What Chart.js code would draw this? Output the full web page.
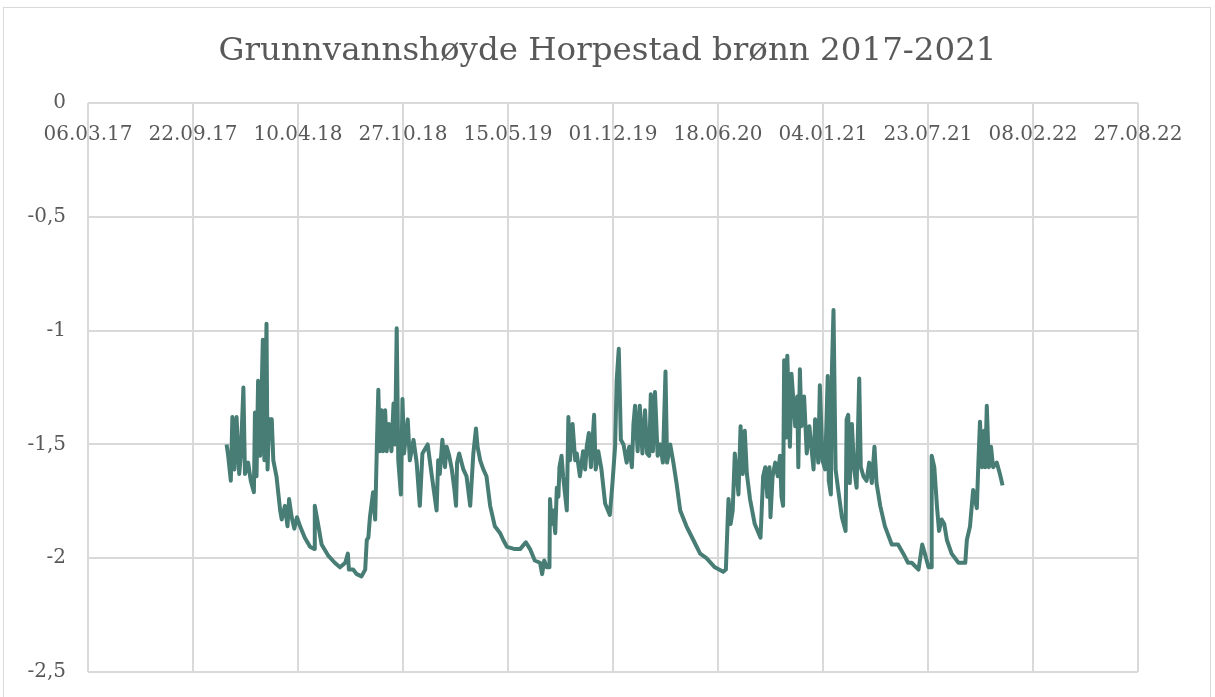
<!DOCTYPE html>
<html>
<head>
<meta charset="utf-8">
<script src="https://cdn.jsdelivr.net/npm/chart.js@4/dist/chart.umd.min.js"></script>
<style>
  html, body { margin: 0; padding: 0; background: #fff; }
  #wrap { position: relative; width: 1215px; height: 697px; overflow: hidden; }
  #frame { position: absolute; left: 3px; top: 7px; width: 1206px; height: 700px; border: 1px solid #d9d9d9; pointer-events: none; }
</style>
</head>
<body>
<div id="wrap">
  <canvas id="chart" width="1215" height="697"></canvas>
  <div id="frame"></div>
</div>
<script>
// groundwater level (m) — x is days after 06.03.17
const startDate = Date.UTC(2017, 2, 6);
const days = [
  264, 267, 272, 275, 279, 283, 288, 291, 296, 299, 305, 310, 316, 318, 321, 324, 328, 333, 336, 340,
  342, 345, 350, 353, 359, 366, 369, 375, 380, 383, 388, 393, 398, 404, 413, 423, 431, 432, 439, 445,
  458, 470, 480, 490, 495, 497, 505, 512, 521, 528, 531, 534, 537, 543, 547, 550, 553, 556, 559, 562,
  566, 569, 573, 578, 582, 585, 588, 591, 596, 599, 602, 609, 613, 620, 626, 632, 637, 647, 655, 664,
  667, 670, 675, 680, 683, 688, 693, 698, 701, 703, 707, 715, 721, 728, 734, 739, 742, 747, 753, 759,
  766, 775, 785, 791, 798, 813, 823, 834, 842, 851, 861, 865, 869, 874, 879, 880, 883, 886, 890, 893,
  896, 898, 902, 905, 912, 915, 918, 923, 928, 931, 937, 943, 947, 950, 954, 958, 964, 967, 972, 978,
  985, 994, 999, 1004, 1007, 1011, 1015, 1020, 1026, 1031, 1036, 1039, 1042, 1047, 1051, 1056, 1061, 1065, 1069, 1072,
  1076, 1080, 1085, 1090, 1095, 1100, 1103, 1109, 1115, 1121, 1128, 1140, 1153, 1166, 1178, 1194, 1210, 1215, 1218, 1220,
  1224, 1228, 1232, 1236, 1239, 1243, 1247, 1251, 1255, 1261, 1270, 1281, 1286, 1290, 1294, 1298, 1300, 1304, 1309, 1314,
  1318, 1321, 1324, 1326, 1330, 1332, 1337, 1340, 1347, 1351, 1353, 1356, 1359, 1364, 1369, 1374, 1382, 1385, 1391, 1394,
  1399, 1404, 1409, 1411, 1415, 1417, 1420, 1424, 1429, 1436, 1443, 1445, 1448, 1451, 1455, 1459, 1464, 1469, 1472, 1477,
  1483, 1488, 1493, 1498, 1502, 1509, 1518, 1531, 1543, 1553, 1562, 1569, 1582, 1589, 1594, 1601, 1606, 1607, 1612, 1617,
  1621, 1626, 1631, 1636, 1645, 1658, 1671, 1674, 1680, 1686, 1693, 1696, 1699, 1703, 1707, 1709, 1712, 1716, 1720, 1724,
  1731, 1737, 1742
];
const levels = [
  -1.50, -1.55, -1.66, -1.38, -1.61, -1.38, -1.63, -1.55, -1.25, -1.63, -1.58, -1.66, -1.71, -1.36, -1.64, -1.22, -1.55, -1.04, -1.57, -0.97,
  -1.61, -1.39, -1.39, -1.57, -1.64, -1.79, -1.83, -1.77, -1.86, -1.74, -1.82, -1.87, -1.82, -1.86, -1.91, -1.95, -1.96, -1.77, -1.86, -1.94,
  -1.99, -2.02, -2.04, -2.02, -1.98, -2.05, -2.05, -2.07, -2.08, -2.05, -1.92, -1.91, -1.82, -1.71, -1.83, -1.53, -1.26, -1.53, -1.35, -1.53,
  -1.35, -1.53, -1.41, -1.53, -1.32, -1.50, -0.99, -1.57, -1.72, -1.30, -1.54, -1.39, -1.57, -1.48, -1.58, -1.77, -1.54, -1.50, -1.64, -1.79,
  -1.57, -1.63, -1.48, -1.60, -1.51, -1.55, -1.61, -1.70, -1.77, -1.58, -1.54, -1.61, -1.64, -1.77, -1.54, -1.43, -1.51, -1.57, -1.61, -1.64,
  -1.77, -1.86, -1.89, -1.92, -1.95, -1.96, -1.96, -1.93, -1.96, -2.01, -2.02, -2.07, -2.01, -2.04, -2.04, -1.74, -1.85, -1.79, -1.89, -1.69,
  -1.73, -1.60, -1.55, -1.64, -1.79, -1.38, -1.57, -1.41, -1.57, -1.54, -1.64, -1.53, -1.61, -1.51, -1.45, -1.60, -1.37, -1.61, -1.53, -1.61,
  -1.76, -1.81, -1.67, -1.51, -1.22, -1.08, -1.48, -1.50, -1.58, -1.51, -1.60, -1.41, -1.33, -1.53, -1.33, -1.54, -1.35, -1.54, -1.55, -1.28,
  -1.53, -1.27, -1.55, -1.50, -1.58, -1.18, -1.58, -1.50, -1.58, -1.67, -1.79, -1.86, -1.92, -1.98, -2.00, -2.04, -2.06, -2.05, -1.86, -1.74,
  -1.85, -1.79, -1.54, -1.64, -1.72, -1.42, -1.63, -1.44, -1.63, -1.74, -1.85, -1.91, -1.64, -1.60, -1.73, -1.60, -1.82, -1.64, -1.58, -1.64,
  -1.55, -1.73, -1.77, -1.13, -1.47, -1.11, -1.51, -1.19, -1.42, -1.29, -1.60, -1.17, -1.42, -1.29, -1.54, -1.42, -1.61, -1.39, -1.58, -1.24,
  -1.57, -1.61, -1.20, -1.66, -1.72, -1.17, -0.91, -1.61, -1.70, -1.82, -1.88, -1.39, -1.37, -1.67, -1.41, -1.60, -1.69, -1.21, -1.60, -1.64,
  -1.66, -1.58, -1.67, -1.51, -1.67, -1.77, -1.86, -1.94, -1.94, -1.98, -2.02, -2.02, -2.05, -1.94, -1.98, -2.04, -2.04, -1.55, -1.60, -1.77,
  -1.88, -1.83, -1.85, -1.92, -1.98, -2.02, -2.02, -1.92, -1.86, -1.70, -1.78, -1.58, -1.40, -1.60, -1.44, -1.60, -1.33, -1.60, -1.51, -1.60,
  -1.58, -1.63, -1.68
];
const yTicks = [0, -0.5, -1, -1.5, -2, -2.5];
const xTickStep = 200;
const xMax = 2000;

const textColor = '#595959';
const gridColor = '#d9d9d9';
const fontFamily = '"DejaVu Serif", Georgia, serif';

function fmtDate(dayNum) {
  const d = new Date(startDate + dayNum * 86400000);
  const dd = String(d.getUTCDate()).padStart(2, '0');
  const mm = String(d.getUTCMonth() + 1).padStart(2, '0');
  const yy = String(d.getUTCFullYear()).slice(2);
  return dd + '.' + mm + '.' + yy;
}

const points = days.map((d, i) => ({ x: d, y: levels[i] }));

const ctx = document.getElementById('chart').getContext('2d');
new Chart(ctx, {
  type: 'line',
  data: {
    datasets: [
      {
        label: 'Grunnvannshøyde',
        data: points,
        borderColor: '#477d74',
        borderWidth: 4,
        pointRadius: 0,
        tension: 0,
        fill: false,
        borderJoinStyle: 'round',
      },
    ],
  },
  options: {
    responsive: false,
    animation: false,
    layout: {
      padding: { left: 0, right: 0, top: 0, bottom: 25 },
    },
    plugins: {
      legend: { display: false },
      tooltip: { enabled: false },
      title: {
        display: true,
        text: 'Grunnvannshøyde Horpestad brønn 2017-2021',
        color: textColor,
        font: { family: fontFamily, size: 32.5, weight: 'normal' },
        padding: { top: 32, bottom: 32 },
      },
    },
    scales: {
      x: {
        type: 'linear',
        position: { y: 0 },
        min: 0,
        max: xMax,
        afterBuildTicks: (scale) => {
          const t = [];
          for (let v = 0; v <= xMax; v += xTickStep) t.push({ value: v });
          scale.ticks = t;
        },
        ticks: {
          color: textColor,
          font: { family: fontFamily, size: 20 },
          padding: 20,
          maxRotation: 0,
          autoSkip: false,
          callback: (value) => fmtDate(value),
        },
        grid: { color: gridColor, lineWidth: 2, drawTicks: false },
        border: { display: false },
      },
      y: {
        min: -2.5,
        max: 0,
        afterBuildTicks: (scale) => {
          scale.ticks = yTicks.map((v) => ({ value: v }));
        },
        afterFit: (scale) => {
          scale.width = 88;
          // label padding shouldn't push the plot area up from the bottom
          scale.paddingTop = 0;
          scale.paddingBottom = 0;
        },
        ticks: {
          color: textColor,
          font: { family: fontFamily, size: 20 },
          padding: 22,
          callback: (value) => String(value).replace('.', ','),
        },
        grid: { color: gridColor, lineWidth: 2, drawTicks: false },
        border: { display: false },
      },
      // empty right-hand margin, keeps the title centred on the whole canvas
      yRight: {
        position: 'right',
        min: -2.5,
        max: 0,
        afterFit: (scale) => {
          scale.width = 77;
        },
        ticks: { display: false },
        grid: { display: false },
        border: { display: false },
      },
    },
  },
});
</script>
</body>
</html>
